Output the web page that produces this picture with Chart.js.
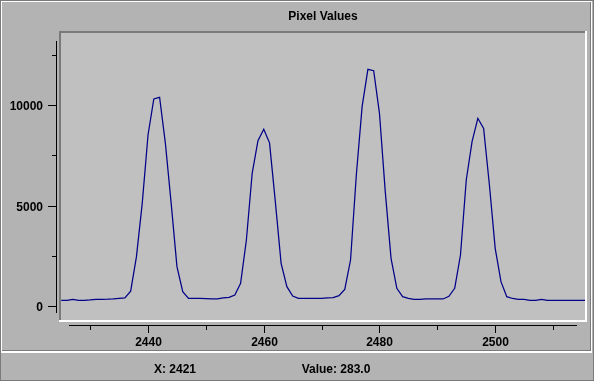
<!DOCTYPE html>
<html><head><meta charset="utf-8">
<script src="https://cdn.jsdelivr.net/npm/chart.js@4/dist/chart.umd.min.js"></script>
<style>
html,body{margin:0;padding:0;background:#b3b3b3;overflow:hidden}
canvas{display:block}
</style></head>
<body>
<canvas id="c" width="594" height="382"></canvas>
<script>
// ---------- data ----------
const chartTitle = 'Pixel Values';
const pixelIndex = [
  2425,2426,2427,2428,2429,2430,2431,2432,2433,2434,2435,2436,2437,2438,2439,2440,
  2441,2442,2443,2444,2445,2446,2447,2448,2449,2450,2451,2452,2453,2454,2455,2456,
  2457,2458,2459,2460,2461,2462,2463,2464,2465,2466,2467,2468,2469,2470,2471,2472,
  2473,2474,2475,2476,2477,2478,2479,2480,2481,2482,2483,2484,2485,2486,2487,2488,
  2489,2490,2491,2492,2493,2494,2495,2496,2497,2498,2499,2500,2501,2502,2503,2504,
  2505,2506,2507,2508,2509,2510,2511,2512,2513,2514,2515,2516
];
const pixelValues = [
  284,284,333,284,284,300,333,333,340,355,384,400,740,2457,5116,8521,
  10315,10400,8107,5116,1960,714,384,384,384,370,349,349,400,433,548,1131,
  3289,6612,8237,8805,8130,5199,2126,963,498,384,384,384,384,384,400,415,
  515,830,2292,6528,9933,11795,11725,9601,5697,2376,880,465,384,333,333,349,
  349,349,349,482,880,2541,6279,8188,9353,8850,6030,2874,1212,465,374,334,
  334,284,284,333,284,284,284,284,284,284,284,284
];
const xMajorTicks = [2440, 2460, 2480, 2500];
const xMinorTicks = [2430, 2450, 2470, 2490, 2510];
const yMajorTicks = [0, 5000, 10000];
const yMinorTicks = [2500, 7500, 12500];
const cursorX = 2421;
const cursorValue = 283.0;

// ---------- view ----------
const X_MIN = 2424.96, X_MAX = 2515.52;
const Y_MIN = -698, Y_MAX = 13604;
const X_AXIS_SPAN = [2426.35, 2514.14];
const Y_AXIS_SPAN = [-350, 13200];
const FONT = 'bold 12px "Liberation Sans", Arial, Helvetica, sans-serif';
const GRAY = '#7a7a7a', WHITE = '#ffffff', PANEL = '#b3b3b3', PLOT = '#c0c0c0';

const decor = {
  id: 'decor',
  beforeDraw(chart) {
    const ctx = chart.ctx, W = chart.width, H = chart.height, a = chart.chartArea;
    ctx.save();
    ctx.fillStyle = PANEL; ctx.fillRect(0, 0, W, H);
    // outer / panel etched borders
    ctx.fillStyle = GRAY;
    ctx.fillRect(0, 0, W, 1); ctx.fillRect(0, 0, 1, H);
    ctx.fillRect(2, 350, 589, 1); ctx.fillRect(590, 1, 1, 350);
    ctx.fillRect(0, 380, W, 1); ctx.fillRect(W - 1, 0, 1, H);
    ctx.fillStyle = WHITE;
    ctx.fillRect(1, 1, 590, 1); ctx.fillRect(1, 1, 1, 351);
    ctx.fillRect(1, 351, 591, 2); ctx.fillRect(591, 1, 1, 352);
    ctx.fillRect(0, 381, W, 1);
    // plot area
    ctx.fillStyle = PLOT; ctx.fillRect(a.left, a.top, a.right - a.left, a.bottom - a.top);
    ctx.fillStyle = GRAY;
    ctx.fillRect(a.left - 2, a.top - 2, a.right - a.left + 2, 2);
    ctx.fillRect(a.left - 2, a.top - 2, 2, a.bottom - a.top + 2);
    ctx.fillStyle = WHITE;
    ctx.fillRect(a.right, a.top - 2, 2, a.bottom - a.top + 4);
    ctx.fillRect(a.left - 2, a.bottom, a.right - a.left + 4, 2);
    ctx.restore();
  },
  afterDraw(chart) {
    const ctx = chart.ctx, xs = chart.scales.x, ys = chart.scales.y, a = chart.chartArea;
    ctx.save();
    ctx.fillStyle = '#000';
    ctx.font = FONT;
    // title
    ctx.textAlign = 'center'; ctx.textBaseline = 'alphabetic';
    ctx.fillText(chartTitle, (a.left + a.right) / 2, 20);
    // y axis
    const yAx = a.left - 5;
    const yt = Math.round(ys.getPixelForValue(Y_AXIS_SPAN[1]));
    const yb = Math.round(ys.getPixelForValue(Y_AXIS_SPAN[0]));
    ctx.fillRect(yAx, yt, 1, yb - yt);
    ctx.textAlign = 'right';
    yMajorTicks.forEach(v => {
      const p = Math.round(ys.getPixelForValue(v));
      ctx.fillRect(yAx - 8, p, 8, 1);
      ctx.fillText(String(v), yAx - 13, p + 4.5);
    });
    yMinorTicks.forEach(v => {
      const p = Math.round(ys.getPixelForValue(v));
      ctx.fillRect(yAx - 4, p, 4, 1);
    });
    // x axis
    const xAy = a.bottom + 5;
    const xl = Math.round(xs.getPixelForValue(X_AXIS_SPAN[0]));
    const xr = Math.round(xs.getPixelForValue(X_AXIS_SPAN[1]));
    ctx.fillRect(xl, xAy, xr - xl, 1);
    ctx.textAlign = 'center';
    xMajorTicks.forEach(v => {
      const p = Math.round(xs.getPixelForValue(v));
      ctx.fillRect(p, xAy, 1, 8);
      ctx.fillText(String(v), p + 0.5, xAy + 21);
    });
    xMinorTicks.forEach(v => {
      const p = Math.round(xs.getPixelForValue(v));
      ctx.fillRect(p, xAy, 1, 5);
    });
    // status bar
    ctx.fillText('X: ' + cursorX, 175, 373);
    ctx.fillText('Value: ' + cursorValue.toFixed(1), 336, 373);
    ctx.restore();
  }
};

new Chart(document.getElementById('c'), {
  type: 'line',
  data: {
    datasets: [{
      data: pixelIndex.map((x, i) => ({ x: x, y: pixelValues[i] })),
      borderColor: '#000088',
      borderWidth: 1.25,
      pointRadius: 0,
      tension: 0,
      fill: false,
      clip: 0
    }]
  },
  options: {
    responsive: false,
    maintainAspectRatio: false,
    animation: false,
    devicePixelRatio: 1,
    events: [],
    layout: { padding: { left: 61, top: 33, right: 9, bottom: 62 } },
    scales: {
      x: { type: 'linear', min: X_MIN, max: X_MAX, display: false },
      y: { type: 'linear', min: Y_MIN, max: Y_MAX, display: false }
    },
    plugins: { legend: { display: false }, title: { display: false }, tooltip: { enabled: false } }
  },
  plugins: [decor]
});
</script>
</body></html>
